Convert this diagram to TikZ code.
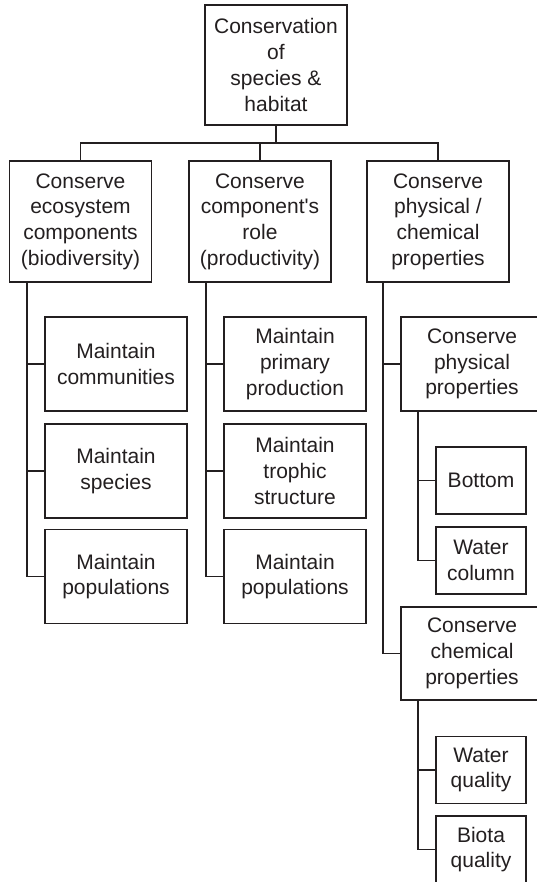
\documentclass[tikz,border=0pt]{standalone}
\usepackage{fontspec}
\setmainfont{Liberation Sans}
\definecolor{ink}{RGB}{35,31,32}
\begin{document}
\begin{tikzpicture}[x=1pt,y=-1pt,
  every node/.style={font=\fontsize{21}{25.7}\selectfont, text=ink},
  box/.style={draw=ink, line width=1.1pt, align=center, inner sep=0pt,
              minimum width=142pt, minimum height=94pt},
  tallbox/.style={box, minimum height=121pt},
  smallbox/.style={box, minimum width=90pt, minimum height=67pt},
  link/.style={draw=ink, line width=1.1pt}]
\useasboundingbox (0,0) rectangle (537,882);
\fill[white] (0,0) rectangle (537,882);
\clip (0,0) rectangle (537,882);

% root and first level
\node[box, minimum height=120pt] (root) at (276,65) {Conservation\\of\\species \&\\habitat};
\node[tallbox] (eco)  at (80.5,221.5) {Conserve\\ecosystem\\components\\(biodiversity)};
\node[tallbox] (role) at (260,221.5)  {Conserve\\component\textquotesingle s\\role\\(productivity)};
\node[tallbox] (phch) at (438,221.5)  {Conserve\\physical /\\chemical\\properties};

% biodiversity branch
\node[box] (comm) at (116,364)   {Maintain\\communities};
\node[box] (spec) at (116,471)   {Maintain\\species};
\node[box] (popa) at (116,576.5) {Maintain\\populations};

% productivity branch
\node[box] (prim) at (295,364)   {Maintain\\primary\\production};
\node[box] (trop) at (295,471)   {Maintain\\trophic\\structure};
\node[box] (popb) at (295,576.5) {Maintain\\populations};

% physical / chemical branch
\node[box] (phys) at (472,364)   {Conserve\\physical\\properties};
\node[smallbox] (bott) at (481,480.5) {Bottom};
\node[smallbox] (wcol) at (481,560.5) {Water\\column};
\node[box, minimum height=93pt] (chem) at (472,653.5) {Conserve\\chemical\\properties};
\node[smallbox] (wqua) at (481,770) {Water\\quality};
\node[smallbox] (biot) at (481,849.5) {Biota\\quality};

% trunk positions
\coordinate (bar) at (0,143);
\coordinate (tA) at (27,0);
\coordinate (tB) at (206,0);
\coordinate (tC) at (383,0);
\coordinate (tD) at (418,0);

% root to first level
\draw[link] (root.south) -- (root.south |- bar);
\draw[link] (eco.north) -- (eco.north |- bar) -- (phch.north |- bar) -- (phch.north);
\draw[link] (role.north) -- (role.north |- bar);

% biodiversity children
\draw[link] (tA |- eco.south) |- (popa.west);
\draw[link] (tA |- comm.west) -- (comm.west);
\draw[link] (tA |- spec.west) -- (spec.west);

% productivity children
\draw[link] (tB |- role.south) |- (popb.west);
\draw[link] (tB |- prim.west) -- (prim.west);
\draw[link] (tB |- trop.west) -- (trop.west);

% physical / chemical children
\draw[link] (tC |- phch.south) |- (chem.west);
\draw[link] (tC |- phys.west) -- (phys.west);
\draw[link] (tD |- phys.south) |- (wcol.west);
\draw[link] (tD |- bott.west) -- (bott.west);
\draw[link] (tD |- chem.south) |- (biot.west);
\draw[link] (tD |- wqua.west) -- (wqua.west);
\end{tikzpicture}
\end{document}
